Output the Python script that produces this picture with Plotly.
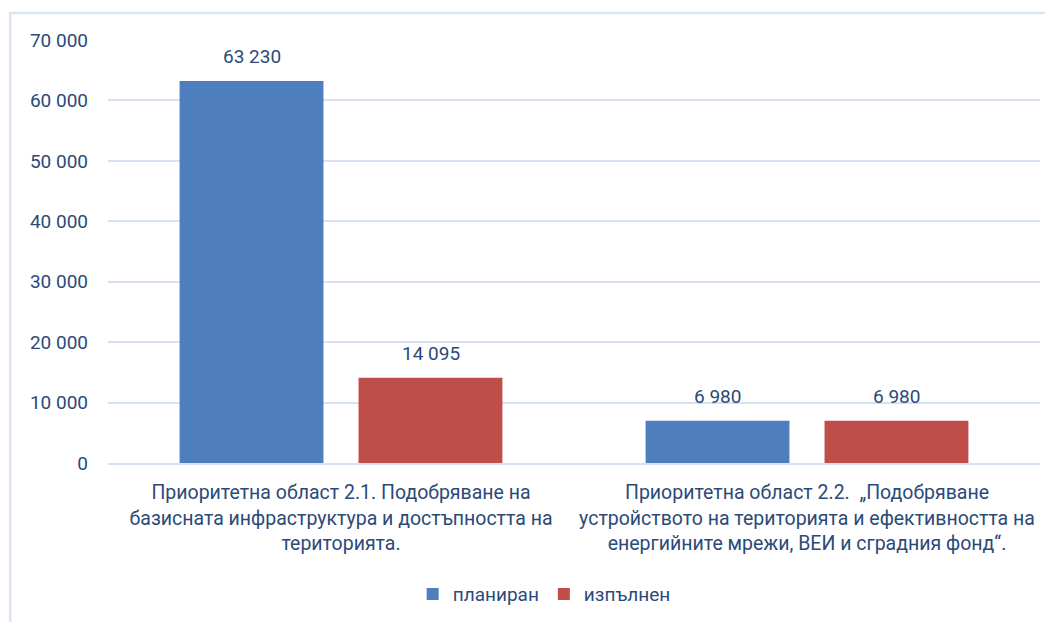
import plotly.graph_objects as go

categories = [
    "Приоритетна област 2.1. Подобряване на<br>базисната инфраструктура и достъпността на<br>територията.",
    "Приоритетна област 2.2.  „Подобряване<br>устройството на територията и ефективността на<br>енергийните мрежи, ВЕИ и сградния фонд“.",
]
series_names = ["планиран", "изпълнен"]
planned = [63230, 6980]
done = [14095, 6980]
tick_vals = [0, 10000, 20000, 30000, 40000, 50000, 60000, 70000]

colors = ["#4f7ebe", "#bf4d4a"]
text_color = "#2b4a78"
font_family = "Roboto, 'Noto Sans', sans-serif"

fig = go.Figure()
for name, vals, col in zip(series_names, [planned, done], colors):
    fig.add_trace(go.Bar(
        x=categories, y=vals, name=name,
        marker=dict(color=col, line=dict(width=0)),
    ))

# value labels above bars
offsets = [-89.5, 89.5]
for vals, off in zip([planned, done], offsets):
    for c, v in zip(categories, vals):
        fig.add_annotation(
            x=c, y=v, text=f"{v:,}".replace(",", " "),
            xshift=off, yshift=11, yanchor="bottom", showarrow=False,
            font=dict(family=font_family, size=19, color=text_color),
        )

fig.update_layout(
    width=1053, height=622,
    margin=dict(l=100, r=21, t=32, b=167),
    paper_bgcolor="white", plot_bgcolor="white",
    barmode="group", bargap=0.232, bargroupgap=0.196,
    separators=", ",
    font=dict(family=font_family, size=19, color=text_color),
    showlegend=True,
    legend=dict(orientation="h", x=0.468, y=-0.31, xanchor="center", yanchor="middle",
                font=dict(size=19, color=text_color), itemwidth=30),
    shapes=[dict(type="rect", xref="paper", yref="paper",
                 x0=-0.105, x1=1.03, y0=-0.42, y1=1.064,
                 line=dict(color="#dbe5f1", width=2.5), fillcolor="rgba(0,0,0,0)", layer="below")],
)
fig.update_yaxes(range=[0, 70000], tickvals=tick_vals, tickformat=",d",
                 gridcolor="#d7e2f1", gridwidth=2, zeroline=False, showline=False,
                 ticks="", ticklabelstandoff=19,
                 tickfont=dict(size=19, color=text_color))
fig.update_xaxes(showline=True, linecolor="#d7e2f1", linewidth=2, ticks="",
                 ticklabelstandoff=11,
                 tickfont=dict(size=19.5, color=text_color))

fig.write_html("out.html")
